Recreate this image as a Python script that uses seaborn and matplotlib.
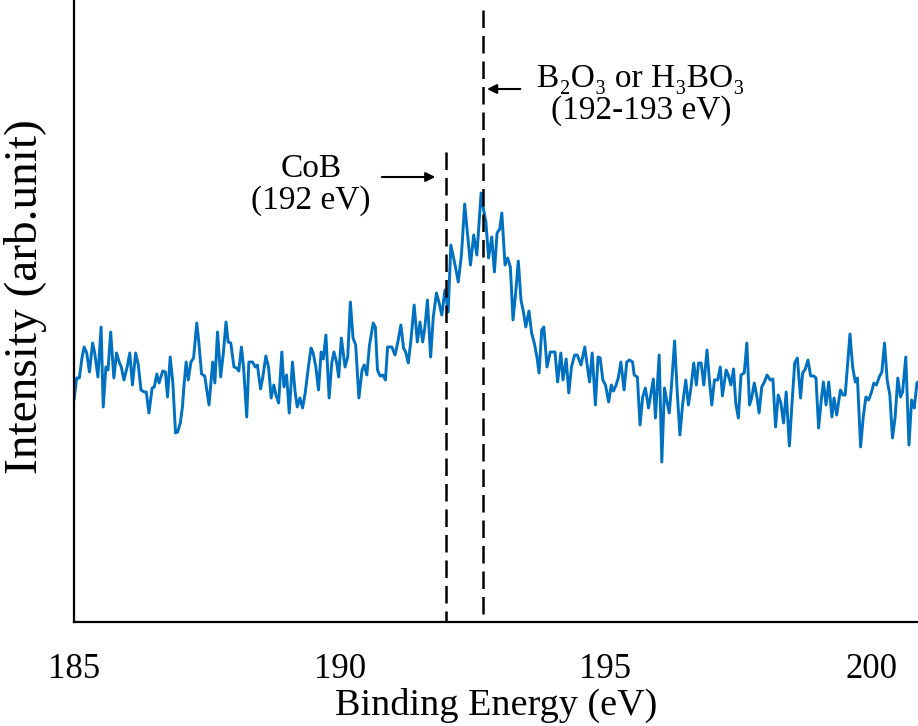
import numpy as np
import pandas as pd
import matplotlib
matplotlib.use("Agg")
import matplotlib.pyplot as plt
import seaborn as sns

# B 1s spectrum: binding energy (eV) and intensity (arb. unit)
energy = [
    185.00, 185.05, 185.10, 185.15, 185.19, 185.24, 185.29, 185.35, 185.39, 185.45,
    185.51, 185.55, 185.60, 185.64, 185.69, 185.75, 185.80, 185.85, 185.89, 185.94,
    186.00, 186.05, 186.10, 186.16, 186.21, 186.26, 186.32, 186.36, 186.41, 186.47,
    186.51, 186.56, 186.60, 186.67, 186.72, 186.76, 186.81, 186.86, 186.91,
    186.95, 187.00, 187.04, 187.07, 187.11, 187.15, 187.20, 187.25, 187.31, 187.35,
    187.40, 187.46, 187.54, 187.61, 187.65, 187.70, 187.76, 187.81, 187.86, 187.90,
    187.95, 188.01, 188.06, 188.10, 188.15, 188.19, 188.25, 188.29, 188.36, 188.41,
    188.45, 188.51, 188.55, 188.61, 188.66, 188.71, 188.76, 188.80, 188.85, 188.91,
    188.95, 189.00, 189.05, 189.11, 189.16, 189.20, 189.25, 189.30, 189.35, 189.41,
    189.46, 189.50, 189.55, 189.60, 189.65, 189.69, 189.74, 189.80, 189.85, 189.89,
    189.94, 189.98, 190.03, 190.10, 190.15, 190.20, 190.25, 190.30, 190.36, 190.42,
    190.46, 190.51, 190.56, 190.63, 190.67, 190.71, 190.76, 190.81, 190.86, 190.90,
    190.98, 191.04, 191.09, 191.15, 191.20, 191.24, 191.29, 191.34, 191.40, 191.46,
    191.51, 191.56, 191.60, 191.65, 191.71, 191.76, 191.82, 191.87, 191.92, 191.98,
    192.04, 192.09, 192.17, 192.23, 192.29, 192.35, 192.40, 192.46, 192.52, 192.58,
    192.66,
    192.70, 192.75, 192.80, 192.86, 192.91, 192.96, 193.01, 193.05, 193.11, 193.16,
    193.21, 193.26, 193.31, 193.36, 193.41, 193.46, 193.50, 193.56, 193.61, 193.66,
    193.71, 193.75, 193.80, 193.84, 193.90, 193.96, 194.01, 194.05, 194.10, 194.16,
    194.20, 194.26, 194.31, 194.36, 194.42, 194.47, 194.54, 194.61, 194.65, 194.70,
    194.75, 194.81, 194.86, 194.90,
    194.95, 195.00, 195.06, 195.11, 195.15, 195.20, 195.24, 195.29, 195.35, 195.40,
    195.45, 195.51, 195.54, 195.60, 195.65, 195.70, 195.75, 195.81, 195.85, 195.90,
    195.94, 196.01, 196.06, 196.11, 196.15, 196.20, 196.24, 196.30, 196.35, 196.40,
    196.45, 196.51, 196.56, 196.61, 196.66, 196.71, 196.75, 196.80, 196.85, 196.91,
    196.95, 197.00, 197.05, 197.11, 197.16, 197.20, 197.27, 197.31, 197.36, 197.41,
    197.45, 197.50, 197.55, 197.61, 197.66, 197.71, 197.75, 197.80, 197.85, 197.89,
    197.94, 197.99, 198.04, 198.10, 198.15, 198.20, 198.25, 198.30, 198.35, 198.40,
    198.46, 198.51, 198.56, 198.61, 198.67, 198.71, 198.76, 198.81, 198.86, 198.92,
    198.96, 199.01, 199.06, 199.10, 199.15, 199.20, 199.26, 199.30, 199.35, 199.42,
    199.47, 199.51, 199.55, 199.60, 199.65, 199.70, 199.74, 199.80, 199.85, 199.90,
    199.95, 200.00, 200.05, 200.10, 200.15, 200.20, 200.25, 200.30, 200.35, 200.40,
    200.45, 200.50, 200.55, 200.59, 200.65, 200.71, 200.76, 200.81, 200.86, 200.88,
]

intensity = [
    222, 244, 244, 264, 275, 269, 250, 279, 269, 245,
    295, 215, 255, 252, 290, 244, 269, 260, 255, 242,
    255, 269, 237, 269, 257, 232, 230, 230, 209, 234,
    235, 248, 239, 251, 250, 225, 265, 239, 189,
    190, 199, 215, 237, 260, 242, 260, 264, 299, 279,
    248, 246, 217, 260, 239, 290, 245, 269, 300, 280,
    279, 255, 254, 251, 275, 255, 205, 260, 260, 255,
    257, 233, 244, 266, 255, 224, 237, 227, 219, 270,
    235, 247, 209, 260, 230, 215, 224, 214, 229, 255,
    274, 269, 255, 232, 270, 263, 287, 224, 259, 270,
    260, 245, 284, 255, 265, 320, 284, 277, 224, 252,
    257, 247, 277, 299, 295, 252, 246, 247, 242, 275,
    275, 267, 279, 297, 274, 270, 259, 282, 317, 280,
    300, 280, 294, 322, 265, 305, 329, 319, 307, 332,
    310, 377, 357, 340, 367, 418, 390, 357, 387, 367,
    429,
    414, 400, 364, 385, 350, 389, 393, 409, 357, 364,
    355, 302, 329, 361, 322, 309, 295, 311, 289, 279,
    265, 249, 292, 295, 255, 270, 270, 270, 240, 269,
    242, 263, 229, 255, 267, 267, 257, 275, 259, 240,
    269, 217, 265, 264,
    242, 237, 220, 237, 231, 237, 244, 260, 232, 260,
    262, 260, 247, 245, 197, 225, 234, 214, 227, 243,
    204, 267, 160, 234, 222, 209, 235, 281, 230, 187,
    217, 242, 217, 235, 259, 237, 259, 259, 237, 272,
    245, 217, 242, 242, 255, 226, 252, 247, 237, 253,
    219, 204, 247, 249, 279, 217, 224, 239, 225, 209,
    235, 240, 247, 242, 243, 195, 227, 219, 199, 230,
    176, 219, 259, 264, 224, 249, 253, 262, 246, 246,
    244, 194, 222, 240, 217, 240, 205, 224, 207, 232,
    227, 227, 254, 288, 255, 240, 244, 175, 205, 225,
    222, 229, 239, 237, 245, 250, 279, 242, 227, 184,
    205, 244, 225, 230, 265, 177, 222, 214, 239, 240,
]

x_ticks = [185, 190, 195, 200]
x_range = (185.0, 200.88)
y_range = (0, 622)

# reference positions (eV) and the top of each dashed marker
cob_energy, cob_top = 192.0, 470
oxide_energy, oxide_top = 192.7, 612
cob_label = "CoB\n(192 eV)"
oxide_label = "B\u2082O\u2083 or H\u2083BO\u2083\n(192-193 eV)"

sns.set_theme(style="white")
plt.rcParams["font.family"] = ["Liberation Serif", "DejaVu Serif"]
plt.rcParams["text.color"] = "black"
plt.rcParams["axes.labelcolor"] = "black"
plt.rcParams["xtick.color"] = "black"

df = pd.DataFrame({"Binding Energy (eV)": energy, "Intensity": intensity})

fig = plt.figure(figsize=(9.18, 7.26), dpi=100)
ax = fig.add_axes([74 / 918, 104 / 726, 844 / 918, 622 / 726])

sns.lineplot(data=df, x="Binding Energy (eV)", y="Intensity", ax=ax,
             color="#0070C0", linewidth=2.1, sort=False, estimator=None)

# peak markers
ax.plot([cob_energy, cob_energy], [cob_top, 0], color="black", lw=1.8,
        dashes=(7, 3.2))
ax.plot([oxide_energy, oxide_energy], [oxide_top, 0], color="black", lw=1.8,
        dashes=(7, 3.2))

ax.set_xlim(*x_range)
ax.set_ylim(*y_range)
ax.set_xticks(x_ticks)
ax.set_xticklabels([str(t) for t in x_ticks], fontsize=25, color="black")
ax.set_yticks([])
ax.tick_params(axis="x", direction="in", length=8, width=1.3, pad=22,
               colors="black")

for side in ("top", "right"):
    ax.spines[side].set_visible(False)
for side in ("left", "bottom"):
    ax.spines[side].set_color("black")
    ax.spines[side].set_linewidth(1.6)

ax.set_xlabel("Binding Energy (eV)", fontsize=27.5, labelpad=2, color="black")
ax.set_ylabel("Intensity (arb.unit)", fontsize=34, color="black")
ax.yaxis.set_label_coords(-0.032, 0.524)

# annotations with arrows pointing at the dashed markers
ax.annotate("", xy=(cob_energy - 0.15, 445), xytext=(cob_energy - 1.26, 445),
            arrowprops=dict(arrowstyle="-|>", color="black", lw=1.5,
                            mutation_scale=14))
ax.text(189.46, 437, cob_label, ha="center", va="center", fontsize=24,
        linespacing=1.05, color="black")

ax.annotate("", xy=(oxide_energy + 0.02, 533), xytext=(oxide_energy + 0.75, 533),
            arrowprops=dict(arrowstyle="-|>", color="black", lw=1.5,
                            mutation_scale=14))
ax.text(195.67, 527, oxide_label, ha="center", va="center", fontsize=24,
        linespacing=1.05, color="black")

fig.savefig("out.png", dpi=100)
